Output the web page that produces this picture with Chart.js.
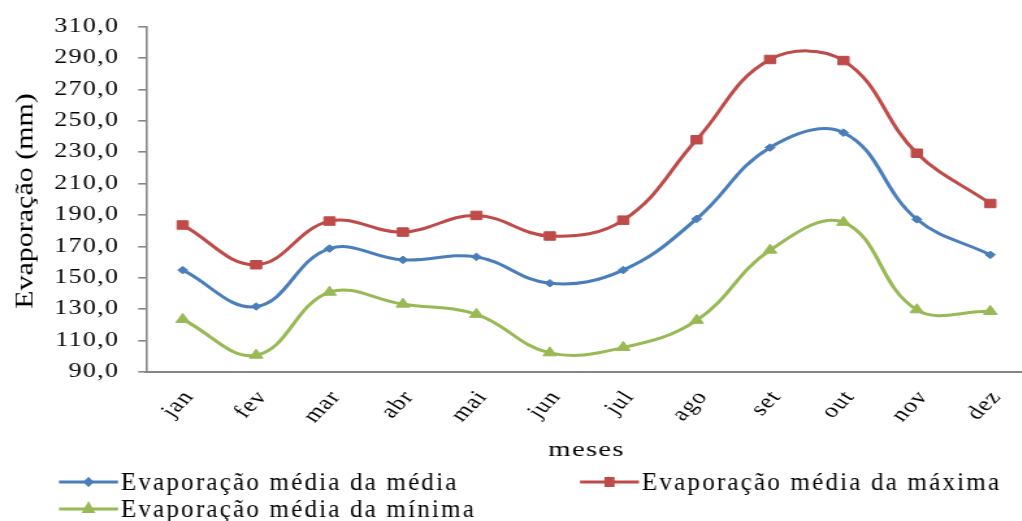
<!DOCTYPE html>
<html>
<head>
<meta charset="utf-8">
<script src="https://cdn.jsdelivr.net/npm/chart.js@4.4.0/dist/chart.umd.min.js"></script>
<style>
html, body { margin: 0; padding: 0; background: #fff; overflow: hidden; }
#wrap { width: 1036px; height: 521px; overflow: hidden; }
/* o original esta esticado na horizontal */
#grafico { transform: scaleX(1.3); transform-origin: 0 0; }
</style>
</head>
<body>
<div id="wrap"><canvas id="grafico" width="797" height="521"></canvas></div>
<script>
// dados
var meses = ['jan', 'fev', 'mar', 'abr', 'mai', 'jun', 'jul', 'ago', 'set', 'out', 'nov', 'dez'];
var mediaMedia  = [154.9, 131.7, 168.6, 161.4, 163.3, 146.5, 154.9, 187.5, 232.9, 242.4, 187.2, 164.6];
var mediaMaxima = [183.6, 158.3, 186.1, 179.1, 189.7, 176.6, 186.7, 237.9, 289.0, 288.3, 229.3, 197.3];
var mediaMinima = [123.5, 100.7, 140.8, 133.2, 126.7, 102.2, 105.6, 122.9, 167.6, 185.3, 129.6, 128.6];
var nomes = ['Evaporação média da média', 'Evaporação média da máxima', 'Evaporação média da mínima'];
var tituloY = 'Evaporação (mm)';
var tituloX = 'meses';
var yMin = 90, yMax = 310, yPasso = 20;

var cores = ['#4A7EBB', '#BE4B48', '#98B954'];
var marcas = ['rectRot', 'rect', 'triangle'];
var raios = [3.8, 6, 6];
var fonte = 'Liberation Serif, Times New Roman, serif';
var esticar = 1.3; // mesmo valor do scaleX do css

var espaco = {
    id: 'espaco',
    beforeUpdate: function(c){ c.ctx.letterSpacing = '1px'; },
    beforeDraw: function(c){ c.ctx.letterSpacing = '1px'; }
};

// titulo do eixo y e legenda, desenhados sem o esticamento
var extras = {
    id: 'extras',
    afterDraw: function(c){
        var ctx = c.ctx;
        ctx.save();
        ctx.scale(1 / esticar, 1);
        ctx.fillStyle = '#000';
        ctx.letterSpacing = '0px';
        ctx.font = '24px ' + fonte;
        ctx.textAlign = 'center';
        ctx.textBaseline = 'alphabetic';
        ctx.translate(33, 201);
        ctx.rotate(-Math.PI / 2);
        ctx.scale(1.25, 1);
        ctx.fillText(tituloY, 0, 0);
        ctx.restore();

        var pos = [[59, 482], [580, 482], [59, 509]];
        ctx.save();
        ctx.scale(1 / esticar, 1);
        ctx.letterSpacing = '2.2px';
        ctx.font = '25px ' + fonte;
        ctx.textBaseline = 'alphabetic';
        for(var i=0;i<3;i++){
            var x = pos[i][0], y = pos[i][1];
            ctx.strokeStyle = cores[i];
            ctx.lineWidth = 3;
            ctx.beginPath();
            ctx.moveTo(x, y);
            ctx.lineTo(x + 59, y);
            ctx.stroke();
            ctx.fillStyle = cores[i];
            Chart.helpers.drawPoint(ctx, {pointStyle: marcas[i], radius: raios[i] * 0.85, rotation: 0, borderWidth: 1}, x + 29.5, y);
            ctx.fillStyle = '#000';
            ctx.fillText(nomes[i], x + 62, y + 8);
        }
        ctx.restore();
    }
};

function serie(i, valores){
    return {
        label: nomes[i],
        data: valores,
        borderColor: cores[i],
        backgroundColor: cores[i],
        borderWidth: 3,
        tension: 0.4,
        pointStyle: marcas[i],
        pointRadius: raios[i],
        pointBorderWidth: 1,
        pointBackgroundColor: cores[i],
        pointBorderColor: cores[i]
    };
}

var chart = new Chart(document.getElementById('grafico'), {
    type: 'line',
    data: {
        labels: meses,
        datasets: [serie(0, mediaMedia), serie(1, mediaMaxima), serie(2, mediaMinima)]
    },
    options: {
        responsive: false,
        animation: false,
        layout: {padding: {left: 0, right: 0, top: 24, bottom: 0}},
        plugins: {legend: {display: false}, tooltip: {enabled: false}},
        scales: {
            x: {
                offset: true,
                grid: {display: false, drawTicks: false},
                border: {color: '#868686', width: 2},
                ticks: {color: '#000', font: {family: fonte, size: 20}, maxRotation: 52, minRotation: 52, autoSkip: false, padding: 14, labelOffset: 5},
                title: {display: true, text: tituloX, color: '#000', font: {family: fonte, size: 22}, padding: {top: 0, bottom: 58}},
                afterFit: function(s){ s.height = 149; }
            },
            y: {
                min: yMin,
                max: yMax,
                grid: {drawOnChartArea: false, color: '#868686', lineWidth: 1.6, tickLength: 6},
                border: {color: '#868686', width: 1.6},
                ticks: {
                    stepSize: yPasso,
                    color: '#000',
                    font: {family: fonte, size: 20},
                    padding: 14.5,
                    callback: function(v){ return v.toFixed(1).replace('.', ','); }
                },
                afterFit: function(s){ s.width = 112.3; }
            }
        }
    },
    plugins: [espaco, extras]
});
</script>
</body>
</html>
